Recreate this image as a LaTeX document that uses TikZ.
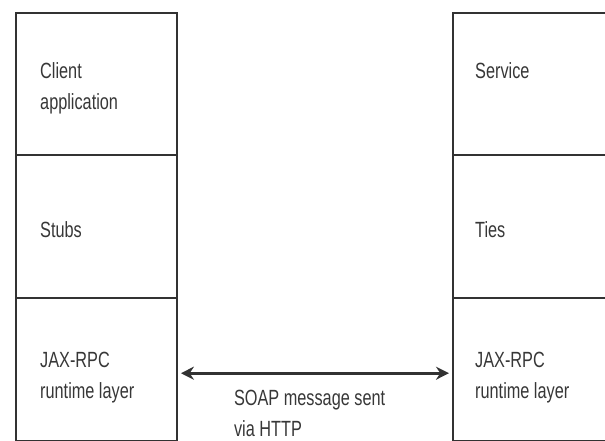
\documentclass[tikz,border=0pt]{standalone}
\usepackage{fontspec}
\setmainfont{Liberation Sans}[FakeStretch=0.74]
\usetikzlibrary{positioning,arrows.meta}
\definecolor{lineclr}{RGB}{50,50,50}
\definecolor{txtclr}{RGB}{55,55,55}
\tikzset{
  cell/.style={rectangle,draw=lineclr,line width=1.9pt,minimum width=161pt,
               minimum height=142.5pt,inner sep=0pt,anchor=north west},
  lbl/.style={inner sep=0pt,align=left,text=txtclr,
              font=\fontsize{22}{31}\selectfont},
  msg/.style={{Stealth[length=13pt,width=13pt]}-{Stealth[length=13pt,width=13pt]},
              line width=2.8pt,draw=lineclr,shorten <=3pt,shorten >=3pt},
}
\begin{document}
\begin{tikzpicture}[x=1pt,y=-1pt]
\useasboundingbox (0,0) rectangle (605,441);
\clip (0,0) rectangle (605,441);

% client side
\node[cell] (client) at (15,12) {};
\node[cell] (stubs) at (15,154.5) {};
\node[cell] (crt) at (15,297) {};
\node[lbl, below right=50pt and 25pt of client.north west] (clientlbl) {Client\\application};
\node[lbl, below right=66.5pt and 25pt of stubs.north west] (stubslbl) {Stubs};
\node[lbl, below right=55pt and 25pt of crt.north west] (crtlbl) {JAX-RPC\\runtime layer};

% service side
\node[cell] (service) at (452,12) {};
\node[cell] (ties) at (452,154.5) {};
\node[cell] (srt) at (452,297) {};
\node[lbl, below right=50pt and 23pt of service.north west] (servicelbl) {Service};
\node[lbl, below right=66.5pt and 23pt of ties.north west] (tieslbl) {Ties};
\node[lbl, below right=55pt and 23pt of srt.north west] (srtlbl) {JAX-RPC\\runtime layer};

% SOAP link
\draw[msg] ([yshift=-4pt]crt.east) -- ([yshift=-4pt]srt.west);
\node[lbl, below right=21pt and 56pt of crt.east] (soaplbl) {SOAP message sent\\via HTTP};
\end{tikzpicture}
\end{document}
